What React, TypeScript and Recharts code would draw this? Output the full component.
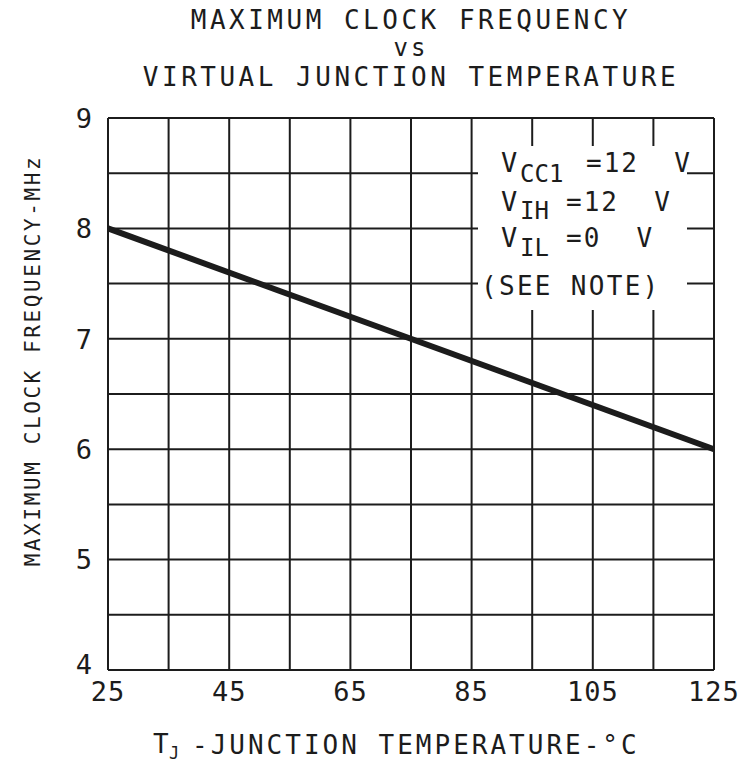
import React from "react";
import { LineChart, Line, XAxis, YAxis, ReferenceLine } from "recharts";

// temperature (°C) vs max clock frequency (MHz)
const temps = [25, 125];
const freqMHz = [8, 6];

const xTicks = [25, 45, 65, 85, 105, 125];
const yTicks = [4, 5, 6, 7, 8, 9];
const gridX = [25, 35, 45, 55, 65, 75, 85, 95, 105, 115, 125];
const gridY = [4, 4.5, 5, 5.5, 6, 6.5, 7, 7.5, 8, 8.5, 9];

const data = temps.map((t, i) => ({ t, f: freqMHz[i] }));

const FONT = '"DejaVu Sans Mono", monospace';
const INK = "#1c1c1c";

const txt = (size: number, spacing: number): React.CSSProperties => ({
  position: "absolute",
  fontFamily: FONT,
  fontSize: size,
  letterSpacing: spacing,
  lineHeight: 1,
  color: INK,
  whiteSpace: "pre",
});

// the "4" at the corner sits a little higher than the others
function YTick(props: any) {
  const { x, y, payload } = props;
  const lift = payload.value === 4 ? -6 : 0;
  return (
    <text
      x={x}
      y={y + lift}
      dy="0.36em"
      textAnchor="end"
      fontSize={27}
      fontFamily={FONT}
      fill={INK}
    >
      {payload.value}
    </text>
  );
}

export default function App() {
  return (
    <div style={{ position: "absolute", left: 0, top: 0, width: 744, height: 768, background: "#fff" }}>
      <LineChart
        width={744}
        height={768}
        data={data}
        margin={{ top: 118, right: 30, bottom: 58, left: 58 }}
      >
        {gridX.map((x) => (
          <ReferenceLine key={"x" + x} x={x} stroke={INK} strokeWidth={2} />
        ))}
        {gridY.map((y) => (
          <ReferenceLine key={"y" + y} y={y} stroke={INK} strokeWidth={2} />
        ))}
        <XAxis
          dataKey="t"
          type="number"
          domain={[25, 125]}
          ticks={xTicks}
          height={40}
          axisLine={false}
          tickLine={false}
          tickMargin={6}
          tick={{ fontSize: 27, fill: INK, fontFamily: FONT, letterSpacing: 1 }}
        />
        <YAxis
          type="number"
          domain={[4, 9]}
          ticks={yTicks}
          width={50}
          axisLine={false}
          tickLine={false}
          tickMargin={10}
          tick={<YTick />}
        />
        <Line
          dataKey="f"
          stroke={INK}
          strokeWidth={6}
          dot={false}
          isAnimationActive={false}
        />
      </LineChart>

      {/* title */}
      <div style={{ ...txt(26, 3.5), left: 0, width: 822, top: 7, textAlign: "center" }}>MAXIMUM CLOCK FREQUENCY</div>
      <div style={{ ...txt(24, 3), left: 0, width: 822, top: 36, textAlign: "center" }}>vs</div>
      <div style={{ ...txt(26, 3.5), left: 0, width: 822, top: 64, textAlign: "center" }}>VIRTUAL JUNCTION TEMPERATURE</div>

      {/* y axis title */}
      <div
        style={{
          ...txt(21, 2.6),
          left: 33 - 250,
          top: 361 - 11,
          width: 500,
          textAlign: "center",
          transform: "rotate(-90deg)",
        }}
      >
        MAXIMUM CLOCK FREQUENCY-MHz
      </div>

      {/* x axis title */}
      <div style={{ ...txt(26, 0), left: 153, top: 731 }}>T</div>
      <div style={{ ...txt(17, 0), left: 169, top: 745 }}>J</div>
      <div style={{ ...txt(26, 3), left: 192, top: 732 }}>-JUNCTION TEMPERATURE-°C</div>

      {/* conditions box */}
      <div style={{ position: "absolute", left: 478, top: 146, width: 209, height: 164, background: "#fff" }} />
      <div style={{ ...txt(27, 2), left: 501, top: 149 }}>V</div>
      <div style={{ ...txt(24, 0), left: 520, top: 162 }}>CC1</div>
      <div style={{ ...txt(26, 2), left: 586, top: 150 }}>=12  V</div>

      <div style={{ ...txt(27, 2), left: 501, top: 188 }}>V</div>
      <div style={{ ...txt(24, 0), left: 520, top: 199 }}>IH</div>
      <div style={{ ...txt(26, 2), left: 566, top: 189 }}>=12  V</div>

      <div style={{ ...txt(27, 2), left: 501, top: 224 }}>V</div>
      <div style={{ ...txt(24, 0), left: 520, top: 236 }}>IL</div>
      <div style={{ ...txt(26, 2), left: 566, top: 225 }}>=0  V</div>

      <div style={{ ...txt(26, 2.3), left: 481, top: 273 }}>(SEE NOTE)</div>
    </div>
  );
}
